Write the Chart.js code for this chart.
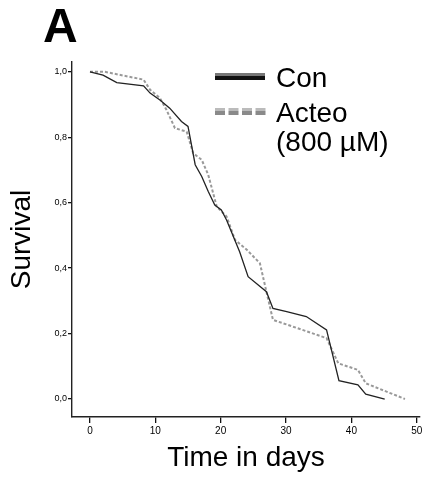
<!DOCTYPE html>
<html lang="en">
<head>
    <meta charset="UTF-8">
    <title>Survival curve</title>
    <script src="https://cdn.jsdelivr.net/npm/chart.js@4"></script>
    <style>
        body {
            margin: 0;
            padding: 0;
            background: #fff;
        }
    </style>
</head>
<body>
    <canvas id="survivalChart" width="430" height="481"></canvas>
    <script>
        // values (days, survival fraction)
        const conDays = [0, 2, 4.1, 8.2, 9.2, 10.7, 12.2, 14, 15, 16.1, 17.1, 18.1, 19.1, 20.1, 20.9, 22.9, 24.2, 27, 28, 30.1, 33.1, 36.2, 38.1, 41, 42.2, 45.1];
        const conSurvival = [1, 0.99, 0.967, 0.957, 0.935, 0.914, 0.889, 0.848, 0.833, 0.716, 0.68, 0.634, 0.593, 0.578, 0.547, 0.45, 0.374, 0.328, 0.277, 0.267, 0.252, 0.211, 0.056, 0.043, 0.015, 0];

        const acteoDays = [0, 2.3, 8.2, 9.2, 10.7, 11.7, 13, 14.8, 15.8, 17.1, 18.1, 19.4, 20.9, 22.2, 24, 26, 27, 28, 36.2, 38, 41, 42.2, 48.2];
        const acteoSurvival = [1, 1, 0.976, 0.945, 0.92, 0.884, 0.828, 0.817, 0.751, 0.731, 0.685, 0.588, 0.558, 0.486, 0.456, 0.415, 0.328, 0.242, 0.186, 0.109, 0.089, 0.048, 0];

        const seriesNames = ["Con", "Acteo", "(800 \u00b5M)"];
        const panelLabel = "A";
        const xTitle = "Time in days";
        const yTitle = "Survival";

        const font = "'Liberation Sans', Arial, sans-serif";

        function toPoints(xs, ys) {
            return xs.map((x, i) => ({ x: x, y: ys[i] }));
        }

        // panel letter and the legend drawn inside the plot
        const extras = {
            id: "extras",
            afterDraw(chart) {
                const ctx = chart.ctx;
                ctx.save();
                ctx.fillStyle = "#000";
                ctx.textBaseline = "alphabetic";
                ctx.font = "bold 48px " + font;
                ctx.fillText(panelLabel, 43, 42);

                // Con swatch: grey top edge, black body
                ctx.fillStyle = "#777";
                ctx.fillRect(215, 73, 50, 3);
                ctx.fillStyle = "#111";
                ctx.fillRect(215, 76, 50, 4);

                // Acteo swatch: dashed, light top, darker bottom
                for (let x = 215; x < 265; x += 13.5) {
                    ctx.fillStyle = "#bbb";
                    ctx.fillRect(x, 108, 10, 3);
                    ctx.fillStyle = "#8a8a8a";
                    ctx.fillRect(x, 111, 10, 4);
                }

                ctx.fillStyle = "#000";
                ctx.font = "28px " + font;
                ctx.fillText(seriesNames[0], 276, 87);
                ctx.fillText(seriesNames[1], 276, 122);
                ctx.fillText(seriesNames[2], 276, 151);
                ctx.restore();
            }
        };

        new Chart(document.getElementById("survivalChart"), {
            type: "line",
            data: {
                datasets: [
                    {
                        label: seriesNames[0],
                        data: toPoints(conDays, conSurvival),
                        borderColor: "#222",
                        borderWidth: 1.3,
                        pointRadius: 0,
                        tension: 0,
                        fill: false,
                    },
                    {
                        label: seriesNames[1] + " " + seriesNames[2],
                        data: toPoints(acteoDays, acteoSurvival),
                        borderColor: "#999",
                        borderWidth: 2,
                        borderDash: [3, 2],
                        pointRadius: 0,
                        tension: 0,
                        fill: false,
                    },
                ],
            },
            options: {
                responsive: false,
                animation: false,
                layout: { padding: { top: 62, right: 10, left: 0, bottom: 0 } },
                plugins: {
                    legend: { display: false },
                    tooltip: { enabled: false },
                },
                scales: {
                    x: {
                        type: "linear",
                        min: -2.75,
                        max: 50.5,
                        afterFit(scale) {
                            scale.height = 64;
                        },
                        ticks: {
                            stepSize: 10,
                            includeBounds: false,
                            color: "#000",
                            padding: 2,
                            maxRotation: 0,
                            font: { family: font, size: 10 },
                        },
                        grid: {
                            drawOnChartArea: false,
                            drawTicks: true,
                            tickLength: 6,
                            color: "#111",
                            lineWidth: 1.3,
                        },
                        border: { display: true, color: "#222", width: 1.4 },
                        title: {
                            display: true,
                            text: xTitle,
                            color: "#000",
                            font: { family: font, size: 28 },
                            padding: { top: 0, bottom: 6 },
                        },
                    },
                    y: {
                        min: -0.055,
                        max: 1.03,
                        afterFit(scale) {
                            scale.width = 72;
                        },
                        ticks: {
                            stepSize: 0.2,
                            includeBounds: false,
                            color: "#000",
                            padding: 1,
                            font: { family: font, size: 9 },
                            callback: (v) => v.toFixed(1).replace(".", ","),
                        },
                        grid: {
                            drawOnChartArea: false,
                            drawTicks: true,
                            tickLength: 4,
                            color: "#111",
                            lineWidth: 1.3,
                        },
                        border: { display: true, color: "#222", width: 1.4 },
                        title: {
                            display: true,
                            text: yTitle,
                            color: "#000",
                            font: { family: font, size: 28 },
                            padding: { top: 5, bottom: 0 },
                        },
                    },
                },
            },
            plugins: [extras],
        });
    </script>
</body>
</html>
